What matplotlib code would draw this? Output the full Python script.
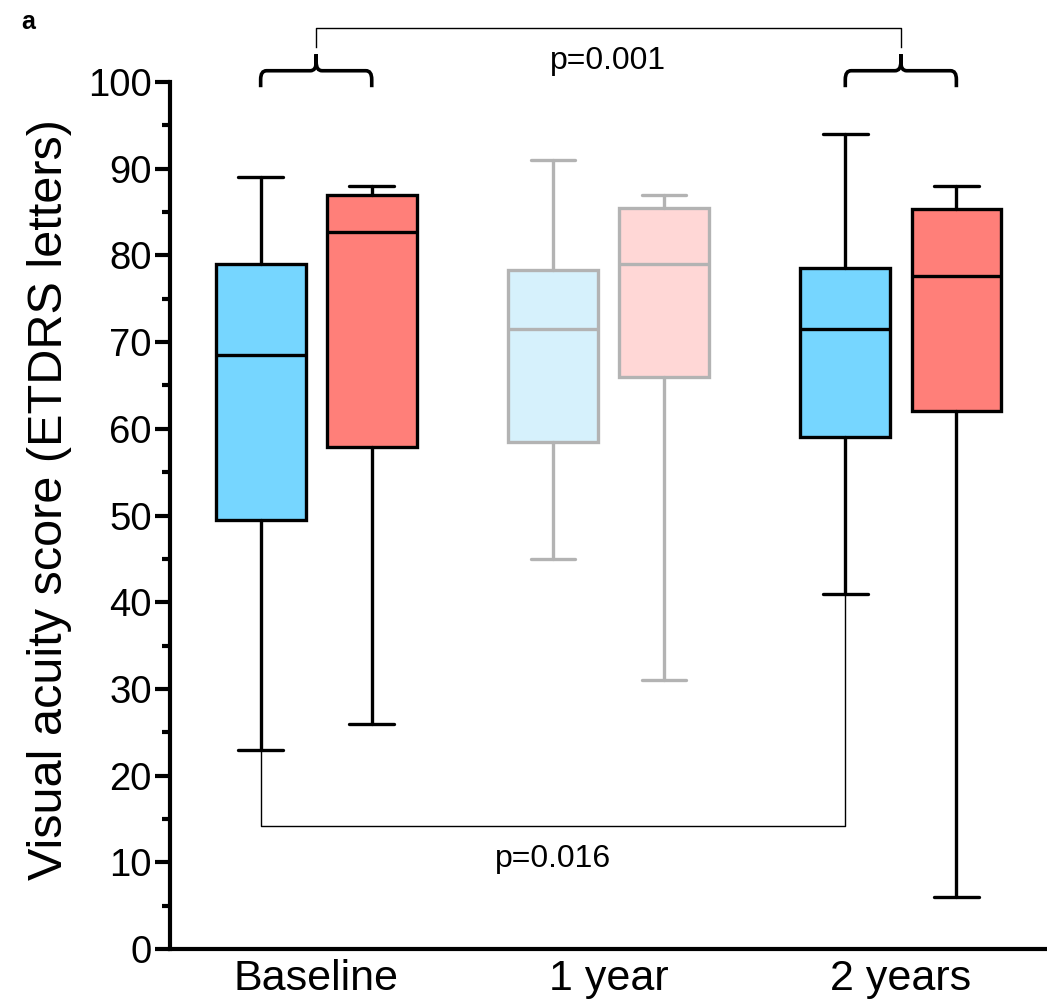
import numpy as np
import matplotlib.pyplot as plt
from matplotlib.path import Path
from matplotlib.patches import PathPatch

plt.rcParams['font.family'] = ['Liberation Sans', 'DejaVu Sans']

# visual acuity (ETDRS letters) box statistics per time point
timepoints = ['Baseline', '1 year', '2 years']
grupo_a_whislo = [23, 45, 41]
grupo_a_q1 = [49.5, 58.5, 59]
grupo_a_med = [68.5, 71.5, 71.5]
grupo_a_q3 = [79, 78.3, 78.5]
grupo_a_whishi = [89, 91, 94]

grupo_b_whislo = [26, 31, 6]
grupo_b_q1 = [57.9, 66, 62]
grupo_b_med = [82.7, 79, 77.6]
grupo_b_q3 = [87, 85.5, 85.3]
grupo_b_whishi = [88, 87, 88]

p_top = 'p=0.001'
p_bottom = 'p=0.016'

blue = '#76D6FF'
red = '#FF7F79'
light_blue = '#D6F1FC'
light_red = '#FFD7D6'
grey = '#B3B3B3'

fig = plt.figure(figsize=(10.47, 10), dpi=100)
ax = fig.add_axes([0.1624, 0.051, 0.8376, 0.867])

pos = np.arange(1, len(timepoints) + 1)
off = 0.19
width = 0.307


def stats(lo, q1, med, q3, hi, i):
    return dict(whislo=lo[i], q1=q1[i], med=med[i], q3=q3[i], whishi=hi[i], fliers=[])


for i in range(len(timepoints)):
    faded = (i == 1)
    ec = grey if faded else 'black'
    for k, (vals, fc, dx) in enumerate([
            ((grupo_a_whislo, grupo_a_q1, grupo_a_med, grupo_a_q3, grupo_a_whishi),
             light_blue if faded else blue, -off),
            ((grupo_b_whislo, grupo_b_q1, grupo_b_med, grupo_b_q3, grupo_b_whishi),
             light_red if faded else red, off)]):
        st = [stats(*vals, i)]
        lp = dict(color=ec, linewidth=2.4, solid_capstyle='round')
        ax.bxp(st, positions=[pos[i] + dx], widths=width, patch_artist=True,
               showfliers=False,
               boxprops=dict(facecolor=fc, edgecolor=ec, linewidth=2.4),
               medianprops=dict(color=ec, linewidth=2.4),
               whiskerprops=lp, capprops=lp, manage_ticks=False)

ax.set_xlim(0.5, 3.5)
ax.set_ylim(0, 100)
ax.set_xticks(pos)
ax.set_xticklabels(timepoints, fontsize=31)
ax.tick_params(axis='x', length=0, pad=7)
ax.set_yticks(np.arange(0, 101, 10))
ax.set_yticks(np.arange(5, 100, 10), minor=True)
ax.tick_params(axis='y', which='major', length=11, width=3, labelsize=27.5, pad=2)
ax.tick_params(axis='y', which='minor', length=6, width=3)
ax.spines['top'].set_visible(False)
ax.spines['right'].set_visible(False)
ax.spines['left'].set_linewidth(3)
ax.spines['bottom'].set_linewidth(3)
ax.set_ylabel('Visual acuity score (ETDRS letters)', fontsize=35, labelpad=12)
ax.yaxis.label.set_y(0.518)


def brace(x0, x1, ybot, ybar, ytip, rx=0.02, ry=1.0):
    xm = (x0 + x1) / 2
    verts = [(x0, ybot), (x0, ybar - ry), (x0, ybar), (x0 + rx, ybar),
             (xm - rx, ybar), (xm, ybar), (xm, ybar + ry), (xm, ytip),
             (xm, ybar + ry), (xm, ybar), (xm + rx, ybar),
             (x1 - rx, ybar), (x1, ybar), (x1, ybar - ry), (x1, ybot)]
    codes = [Path.MOVETO, Path.LINETO, Path.CURVE3, Path.CURVE3,
             Path.LINETO, Path.CURVE3, Path.CURVE3, Path.LINETO,
             Path.LINETO, Path.CURVE3, Path.CURVE3,
             Path.LINETO, Path.CURVE3, Path.CURVE3, Path.LINETO]
    ax.add_patch(PathPatch(Path(verts, codes), fill=False, lw=2.6,
                           edgecolor='black', clip_on=False, capstyle='butt'))


# comparison baseline vs 2 years (both groups)
for g in (pos[0], pos[2]):
    brace(g - off, g + off, 99.4, 101.3, 103.2)
ax.plot([pos[0], pos[0], pos[2], pos[2]], [104.0, 106.2, 106.2, 104.0],
        color='black', lw=1.0, clip_on=False)
ax.text((pos[0] + pos[2]) / 2, 102.4, p_top, ha='center', va='center', fontsize=23)

# comparison baseline vs 2 years (group A)
xa0 = pos[0] - off
xa2 = pos[2] - off
ax.plot([xa0, xa0, xa2, xa2],
        [grupo_a_whislo[0], 14.2, 14.2, grupo_a_whislo[2]],
        color='black', lw=1.0, clip_on=False, zorder=1)
ax.text((xa0 + xa2) / 2, 10.4, p_bottom, ha='center', va='center', fontsize=23)

fig.text(0.027, 0.978, 'a', fontsize=18, fontweight='bold', ha='center', va='center')

fig.savefig('out.png', dpi=100)
